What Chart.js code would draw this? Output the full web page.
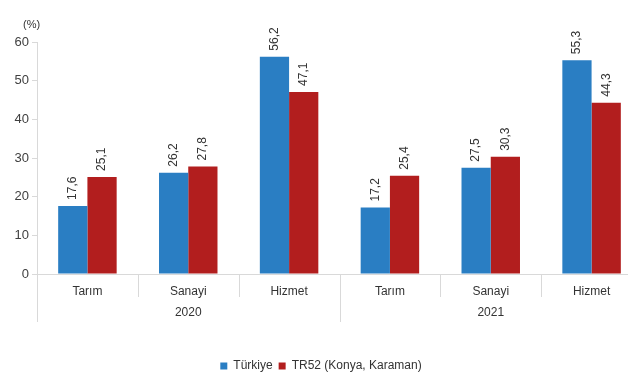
<!DOCTYPE html>
<html>
<head>
<meta charset="utf-8">
<script src="https://cdn.jsdelivr.net/npm/chart.js@4/dist/chart.umd.min.js"></script>
<style>
html,body{margin:0;padding:0;background:#fff;overflow:hidden;width:628px;height:375px;}
canvas{display:block;}
</style>
</head>
<body>
<canvas id="c" width="642" height="375"></canvas>
<script>
const categories = ['Tarım', 'Sanayi', 'Hizmet', 'Tarım', 'Sanayi', 'Hizmet'];
const years = ['2020', '2021'];
const turkiye = [17.6, 26.2, 56.2, 17.2, 27.5, 55.3];
const tr52 = [25.1, 27.8, 47.1, 25.4, 30.3, 44.3];
const seriesNames = ['Türkiye', 'TR52 (Konya, Karaman)'];
const yTicks = [0, 10, 20, 30, 40, 50, 60];

const FONT = "'Liberation Sans', Arial, sans-serif";
const GRID = '#d9d9d9';
const TXT = '#333333';

const extras = {
  id: 'extras',
  afterDatasetsDraw(chart) {
    const ctx = chart.ctx;
    ctx.save();
    ctx.font = '12px ' + FONT;
    ctx.fillStyle = TXT;
    chart.data.datasets.forEach((ds, di) => {
      const meta = chart.getDatasetMeta(di);
      meta.data.forEach((el, i) => {
        const v = ds.data[i];
        ctx.save();
        ctx.translate(el.x, el.y - 6);
        ctx.rotate(-Math.PI / 2);
        ctx.textAlign = 'left';
        ctx.textBaseline = 'middle';
        ctx.fillText(v.toFixed(1).replace('.', ','), 0, 0);
        ctx.restore();
      });
    });
    ctx.restore();
  },
  afterDraw(chart) {
    const ctx = chart.ctx;
    const xs = chart.scales.x;
    const bottom = chart.chartArea.bottom;
    const half = (xs.getPixelForValue(1) - xs.getPixelForValue(0)) / 2;
    ctx.save();
    ctx.strokeStyle = GRID;
    ctx.lineWidth = 1;
    for (let i = 0; i <= categories.length; i++) {
      const x = Math.round((i < categories.length ? xs.getPixelForValue(i) - half : xs.getPixelForValue(i - 1) + half)) + 0.5;
      const long = (i % 3 === 0);
      ctx.beginPath();
      ctx.moveTo(x, bottom);
      ctx.lineTo(x, bottom + (long ? 48 : 23));
      ctx.stroke();
    }
    ctx.font = '12px ' + FONT;
    ctx.fillStyle = TXT;
    ctx.textAlign = 'center';
    ctx.textBaseline = 'middle';
    years.forEach((y, k) => {
      ctx.fillText(y, xs.getPixelForValue(k * 3 + 1), bottom + 39);
    });
    // axis unit
    ctx.font = '11px ' + FONT;
    ctx.textAlign = 'left';
    ctx.fillText('(%)', 23, 25);
    ctx.restore();
  }
};

new Chart(document.getElementById('c'), {
  type: 'bar',
  data: {
    labels: categories,
    datasets: [
      { label: seriesNames[0], data: turkiye, backgroundColor: '#2a7ec3', borderWidth: 0 },
      { label: seriesNames[1], data: tr52, backgroundColor: '#b21e1e', borderWidth: 0 }
    ]
  },
  options: {
    responsive: false,
    animation: false,
    devicePixelRatio: 1,
    layout: { padding: { top: 42, left: 0, right: 0, bottom: -7 } },
    datasets: { bar: { categoryPercentage: 0.58, barPercentage: 1.0 } },
    plugins: {
      legend: {
        position: 'bottom',
        labels: { boxWidth: 7, boxHeight: 7, padding: 6, color: TXT, font: { size: 12, family: FONT } }
      },
      tooltip: { enabled: false }
    },
    scales: {
      x: {
        grid: { display: false, drawTicks: false },
        border: { display: true, color: GRID },
        ticks: { color: TXT, font: { size: 12, family: FONT }, padding: 10, maxRotation: 0 },
        afterFit(s) { s.height = 80; }
      },
      y: {
        min: 0, max: 60,
        afterBuildTicks(s) { s.ticks = yTicks.map(v => ({ value: v })); },
        grid: { display: true, drawOnChartArea: false, drawTicks: true, tickLength: 5, color: GRID },
        border: { display: true, color: GRID },
        ticks: { color: '#404040', font: { size: 13, family: FONT }, padding: 3 },
        afterFit(s) { s.width = 37; }
      }
    }
  },
  plugins: [extras]
});
</script>
</body>
</html>
